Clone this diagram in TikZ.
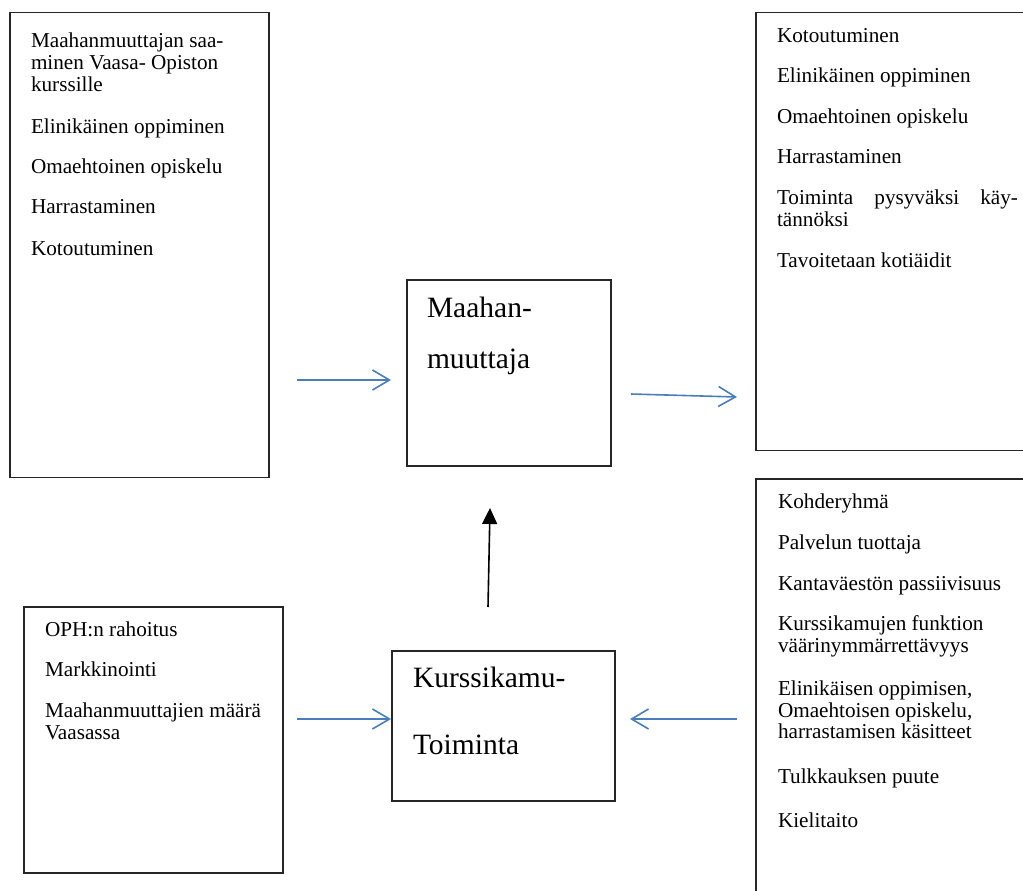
\documentclass[tikz,border=0pt]{standalone}
\usepackage{fontspec}
\setmainfont{Liberation Serif}
\usetikzlibrary{arrows.meta}
\definecolor{arrowblue}{RGB}{74,126,187}
\tikzset{
  box/.style={draw=black!85, line width=1.2pt, inner sep=0pt, outer sep=0pt, anchor=north west},
  item/.style={anchor=base west, inner sep=0pt, outer sep=0pt, font=\fontsize{21.2}{22}\selectfont},
  heading/.style={anchor=base west, inner sep=0pt, outer sep=0pt, font=\fontsize{29.5}{30}\selectfont},
  flow/.style={draw=arrowblue, line width=1.6pt, -{Straight Barb[length=17pt,width=20pt,line width=1.6pt]}},
  lift/.style={draw=black, line width=1.6pt, -{Triangle[length=16pt,width=15pt]}},
}
\begin{document}
\begin{tikzpicture}[x=1pt,y=-1pt]
  \useasboundingbox (0,0) rectangle (1023,891);
  \fill[white] (0,0) rectangle (1023,891);
  \clip (0,0) rectangle (1023,891);

  % boxes
  \node[box, minimum width=259pt, minimum height=465pt] (goals) at (10,12.7) {};
  \node[box, minimum width=300pt, minimum height=438pt] (results) at (756,12.7) {};
  \node[box, minimum width=300pt, minimum height=430pt] (obstacles) at (756,479) {};
  \node[box, minimum width=259pt, minimum height=266pt] (resources) at (24,607) {};
  \node[box, minimum width=204pt, minimum height=186pt] (migrant) at (407,280) {};
  \node[box, minimum width=223pt, minimum height=150pt] (activity) at (392,651) {};

  % goals
  \node[item] (g1) at (31,48) {Maahanmuuttajan saa-};
  \node[item] (g2) at (31,70) {minen Vaasa- Opiston};
  \node[item] (g3) at (31,92) {kurssille};
  \node[item] (g4) at (31,133) {Elinikäinen oppiminen};
  \node[item] (g5) at (31,173) {Omaehtoinen opiskelu};
  \node[item] (g6) at (31,213) {Harrastaminen};
  \node[item] (g7) at (31,255) {Kotoutuminen};

  % results
  \node[item] (r1) at (777,43) {Kotoutuminen};
  \node[item] (r2) at (777,83) {Elinikäinen oppiminen};
  \node[item] (r3) at (777,123) {Omaehtoinen opiskelu};
  \node[item] (r4) at (777,163) {Harrastaminen};
  \node[item] (r5) at (777,204) {\makebox[241pt][s]{Toiminta pysyväksi käy-}};
  \node[item] (r6) at (777,226) {tännöksi};
  \node[item] (r7) at (777,267) {Tavoitetaan kotiäidit};

  % obstacles
  \node[item] (o1) at (778,508) {Kohderyhmä};
  \node[item] (o2) at (778,549) {Palvelun tuottaja};
  \node[item] (o3) at (778,590) {Kantaväestön passiivisuus};
  \node[item] (o4) at (778,630) {Kurssikamujen funktion};
  \node[item] (o5) at (778,652) {väärinymmärrettävyys};
  \node[item] (o6) at (778,695) {Elinikäisen oppimisen,};
  \node[item] (o7) at (778,717) {Omaehtoisen opiskelu,};
  \node[item] (o8) at (778,738) {harrastamisen käsitteet};
  \node[item] (o9) at (778,783) {Tulkkauksen puute};
  \node[item] (o10) at (778,827) {Kielitaito};

  % resources
  \node[item] (s1) at (45,636) {OPH:n rahoitus};
  \node[item] (s2) at (45,676) {Markkinointi};
  \node[item] (s3) at (45,717) {Maahanmuuttajien määrä};
  \node[item] (s4) at (45,739) {Vaasassa};

  % central boxes
  \node[heading] (m1) at (427,317) {Maahan-};
  \node[heading] (m2) at (427,368) {muuttaja};
  \node[heading] (k1) at (413,687) {Kurssikamu-};
  \node[heading] (k2) at (413,754) {Toiminta};

  % connectors
  \coordinate (in1) at (297,380);
  \coordinate (in1e) at (391,380);
  \coordinate (out1) at (631,394);
  \coordinate (out1e) at (737,397);
  \coordinate (in2) at (297,719);
  \coordinate (in2e) at (391,719);
  \coordinate (in3) at (737,719);
  \coordinate (in3e) at (630,719);
  \coordinate (up) at (488,607);
  \coordinate (upe) at (490,508);

  \draw[flow] (in1) -- (in1e);
  \draw[flow] (out1) -- (out1e);
  \draw[flow] (in2) -- (in2e);
  \draw[flow] (in3) -- (in3e);
  \draw[lift] (up) -- (upe);
\end{tikzpicture}
\end{document}
